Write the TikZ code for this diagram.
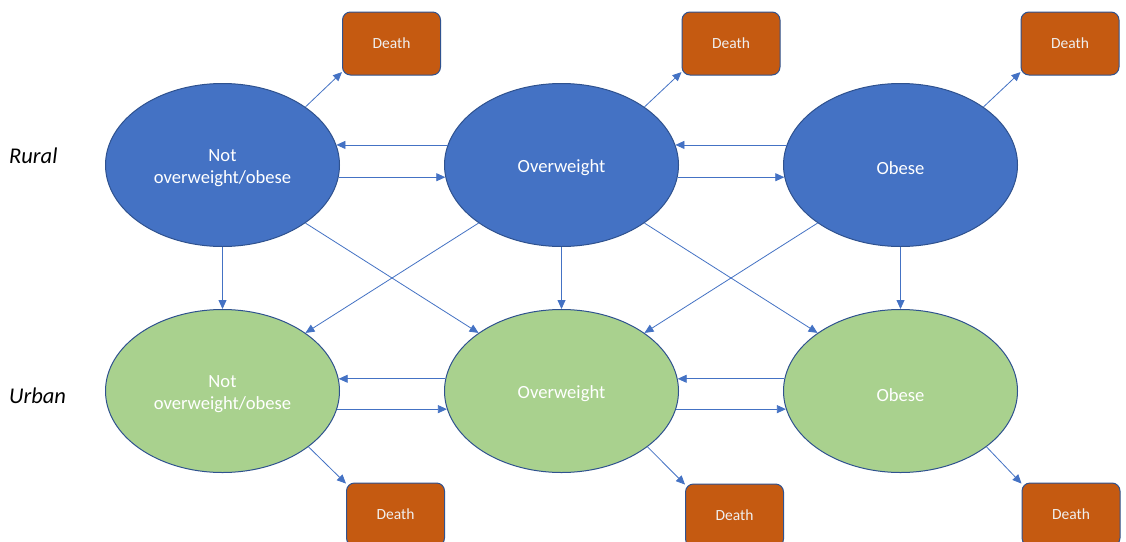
\documentclass[tikz,border=0pt]{standalone}
\usepackage{fontspec}
\setmainfont{Carlito}
\usetikzlibrary{shapes.geometric,arrows.meta}
\definecolor{ruralblue}{HTML}{4472C4}
\definecolor{urbangreen}{HTML}{A9D18E}
\definecolor{deathorange}{HTML}{C55A11}
\definecolor{edgeblue}{HTML}{2F528F}
\definecolor{arrowblue}{HTML}{4472C4}
\begin{document}
\begin{tikzpicture}[x=1pt,y=-1pt,
  state/.style={ellipse, draw=edgeblue, line width=1pt, minimum width=234pt, minimum height=163pt,
    inner sep=0pt},
  lbl/.style={text=white, align=center, inner sep=0pt, yshift=-3pt,
    font=\fontsize{18.6}{22.7}\selectfont},
  rural/.style={state, fill=ruralblue},
  urban/.style={state, fill=urbangreen},
  deathbox/.style={rectangle, rounded corners=8pt, draw=edgeblue, line width=1pt, fill=deathorange,
    minimum width=98pt, minimum height=63pt, inner sep=0pt, text=white!94!black,
    font=\fontsize{15.5}{18}\selectfont},
  arr/.style={draw=arrowblue, line width=0.8pt, -{Triangle[length=9pt,width=8pt]}},
  grp/.style={font=\fontsize{22.5}{27}\selectfont\itshape, anchor=base west, inner sep=0pt}
]
\clip (0,0) rectangle (1126,541);
\fill[white] (0,0) rectangle (1126,541);

% labels
\node[grp] (rural) at (9,163) {Rural};
\node[grp] (urban) at (9,403) {Urban};

% rural states
\node[rural, label={[lbl]center:Not\\overweight/obese}] (E1) at (222.5,165) {};
\node[rural, label={[lbl]center:Overweight}] (E2) at (561.5,165) {};
\node[rural, label={[lbl]center:Obese}] (E3) at (900.5,165) {};

% urban states
\node[urban, label={[lbl]center:Not\\overweight/obese}] (F1) at (222.5,391) {};
\node[urban, label={[lbl]center:Overweight}] (F2) at (561.5,391) {};
\node[urban, label={[lbl, yshift=-1pt]center:Obese}] (F3) at (900.5,391) {};

% death boxes
\node[deathbox] (D1) at (391.5,43.5) {\raisebox{-1.5pt}{Death}};
\node[deathbox] (D2) at (731,43.5) {\raisebox{-1.5pt}{Death}};
\node[deathbox] (D3) at (1070,43.5) {\raisebox{-1.5pt}{Death}};
\node[deathbox] (B1) at (395.5,514.5) {\raisebox{-1.5pt}{Death}};
\node[deathbox] (B2) at (734.5,515.5) {\raisebox{-1.5pt}{Death}};
\node[deathbox] (B3) at (1071,514.5) {\raisebox{-1.5pt}{Death}};

% horizontal transitions, rural
\draw[arr] (E2.170) -- (E1.10);
\draw[arr] (E1.-6) -- (E2.186);
\draw[arr] (E3.170) -- (E2.10);
\draw[arr] (E2.-6) -- (E3.186);

% horizontal transitions, urban
\draw[arr] (F2.174) -- (F1.6);
\draw[arr] (F1.-9) -- (F2.189);
\draw[arr] (F3.174) -- (F2.6);
\draw[arr] (F2.-9) -- (F3.189);

% vertical
\draw[arr] (E1.south) -- (F1.north);
\draw[arr] (E2.south) -- (F2.north);
\draw[arr] (E3.south) -- (F3.north);

% diagonals
\draw[arr] (E1.-35) -- (F2.145);
\draw[arr] (E2.215) -- (F1.35);
\draw[arr] (E2.-35) -- (F3.145);
\draw[arr] (E3.215) -- (F2.35);

% to death
\draw[arr] (E1.35) -- (D1.210);
\draw[arr] (E2.35) -- (D2.210);
\draw[arr] (E3.35) -- (D3.210);
\draw[arr] (F1.-33) -- (B1.148);
\draw[arr] (F2.-33) -- (B2.148);
\draw[arr] (F3.-33) -- (B3.148);
\end{tikzpicture}
\end{document}
